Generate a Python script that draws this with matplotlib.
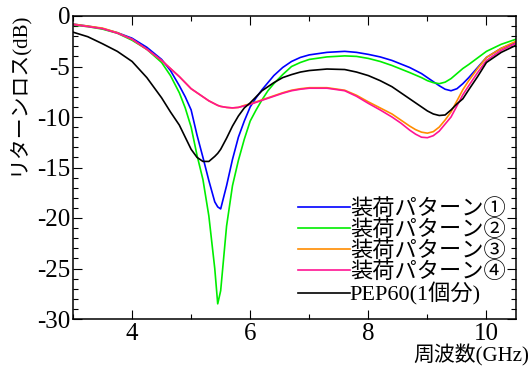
import matplotlib
matplotlib.use("Agg")
import matplotlib.pyplot as plt
from matplotlib.ticker import MultipleLocator

plt.rcParams['font.family'] = ['Liberation Serif', 'Noto Sans CJK JP', 'DejaVu Sans']
plt.rcParams['axes.unicode_minus'] = False

# frequency (GHz) and return loss (dB)
freq = [3.0, 3.25, 3.5, 3.75, 4.0, 4.25, 4.5, 4.65, 4.8, 4.9, 5.0, 5.1, 5.2, 5.3, 5.4, 5.45,
        5.5, 5.6, 5.7, 5.8, 5.9, 6.0, 6.1, 6.2, 6.3, 6.4, 6.55, 6.7, 6.85, 7.0, 7.3, 7.6,
        7.8, 8.0, 8.2, 8.4, 8.55, 8.7, 8.8, 8.9, 9.0, 9.1, 9.2, 9.3, 9.4, 9.5, 9.6, 9.7,
        9.85, 10.0, 10.25, 10.5]

pattern1 = [-0.8, -1.0, -1.25, -1.65, -2.2, -3.1, -4.3, -5.4, -6.9, -8.0, -9.3, -11.8,
            -14.0, -16.3, -18.4, -18.9, -19.1, -16.8, -14.2, -12.0, -10.4, -9.0, -8.1, -7.3,
            -6.6, -5.9, -5.1, -4.5, -4.1, -3.85, -3.6, -3.5, -3.6, -3.8, -4.05, -4.4, -4.75,
            -5.1, -5.4, -5.7, -6.1, -6.5, -6.9, -7.25, -7.4, -7.2, -6.7, -6.1, -5.1, -4.1,
            -3.2, -2.6]
pattern2 = [-0.9, -1.05, -1.3, -1.7, -2.4, -3.3, -4.6, -5.9, -7.6, -9.1, -11.0, -13.8,
            -16.2, -19.8, -25.0, -28.5, -27.2, -20.8, -16.8, -14.3, -12.2, -10.4, -9.3, -8.3,
            -7.4, -6.7, -5.8, -5.0, -4.6, -4.3, -4.05, -3.95, -4.0, -4.2, -4.5, -4.9, -5.25,
            -5.6, -5.85, -6.1, -6.4, -6.6, -6.7, -6.55, -6.2, -5.7, -5.2, -4.8, -4.15, -3.5,
            -2.8, -2.3]
pattern3 = [-0.8, -1.0, -1.2, -1.65, -2.3, -3.3, -4.4, -5.2, -6.0, -6.6, -7.2, -7.6,
            -8.0, -8.4, -8.7, -8.85, -8.95, -9.05, -9.1, -9.05, -8.85, -8.7, -8.5, -8.3,
            -8.1, -7.9, -7.6, -7.35, -7.2, -7.1, -7.1, -7.35, -7.85, -8.5, -9.1, -9.7, -10.3,
            -10.9, -11.25, -11.5, -11.6, -11.45, -11.0, -10.3, -9.5, -8.4, -7.3, -6.4, -5.2,
            -4.1, -3.2, -2.5]
pattern4 = [-0.85, -1.05, -1.25, -1.7, -2.3, -3.3, -4.4, -5.2, -6.0, -6.6, -7.2, -7.6,
            -8.0, -8.4, -8.7, -8.85, -8.95, -9.05, -9.1, -9.05, -8.9, -8.75, -8.55, -8.35,
            -8.15, -7.95, -7.65, -7.4, -7.25, -7.15, -7.15, -7.4, -7.95, -8.65, -9.3, -10.0,
            -10.6, -11.3, -11.7, -12.0, -12.05, -11.85, -11.4, -10.7, -10.0, -8.9, -7.8, -6.9,
            -5.6, -4.4, -3.4, -2.7]
pep60 = [-1.6, -2.05, -2.75, -3.5, -4.5, -6.1, -8.1, -9.5, -10.8, -12.0, -13.2, -14.0,
         -14.4, -14.4, -13.9, -13.6, -13.2, -12.1, -10.9, -9.9, -9.1, -8.6, -8.0, -7.4,
         -7.0, -6.6, -6.1, -5.8, -5.55, -5.4, -5.25, -5.3, -5.55, -5.9, -6.4, -7.0, -7.6,
         -8.2, -8.6, -9.0, -9.4, -9.7, -9.85, -9.8, -9.3, -8.7, -8.2, -7.3, -6.0, -4.6,
         -3.6, -2.9]

labels = ['装荷パターン①', '装荷パターン②', '装荷パターン③', '装荷パターン④', 'PEP60(1個分)']
colors = ['#0000ff', '#00ee00', '#ff8c00', '#ff1493', '#000000']
series = [pattern1, pattern2, pattern3, pattern4, pep60]

fig = plt.figure(figsize=(5.3, 3.67), dpi=100)
ax = fig.add_axes([73 / 530, 1 - 319 / 367, (516 - 73) / 530, (319 - 16) / 367])

for s, c, lab in zip(series, colors, labels):
    ax.plot(freq, s, color=c, lw=1.2, label=lab)

ax.set_xlim(3, 10.5)
ax.set_ylim(-30, 0)
ax.xaxis.set_major_locator(MultipleLocator(2))
ax.xaxis.set_minor_locator(MultipleLocator(1))
ax.yaxis.set_major_locator(MultipleLocator(5))
ax.yaxis.set_minor_locator(MultipleLocator(1))
ax.tick_params(which='both', direction='in', top=True, right=True, width=0.8)
ax.tick_params(which='major', length=6.5, labelsize=18)
ax.tick_params(which='minor', length=3.6)
ax.tick_params(axis='y', pad=2)
ax.tick_params(axis='x', pad=3)
for sp in ax.spines.values():
    sp.set_linewidth(1.1)

ax.legend(loc='lower right', bbox_to_anchor=(1 - 6 / 443, 9 / 303), frameon=False,
          fontsize=16, handlelength=2.35, handletextpad=0.0, labelspacing=0.0,
          borderaxespad=0.1, borderpad=0.1)

fig.text(18 / 530, 1 - 12 / 367, 'リターンロス(dB)', rotation=90, ha='center', va='top', fontsize=15)
fig.text(529 / 530, 1 - 355 / 367, '周波数(GHz)', ha='right', va='center', fontsize=15)

fig.savefig('out.png', dpi=100)
